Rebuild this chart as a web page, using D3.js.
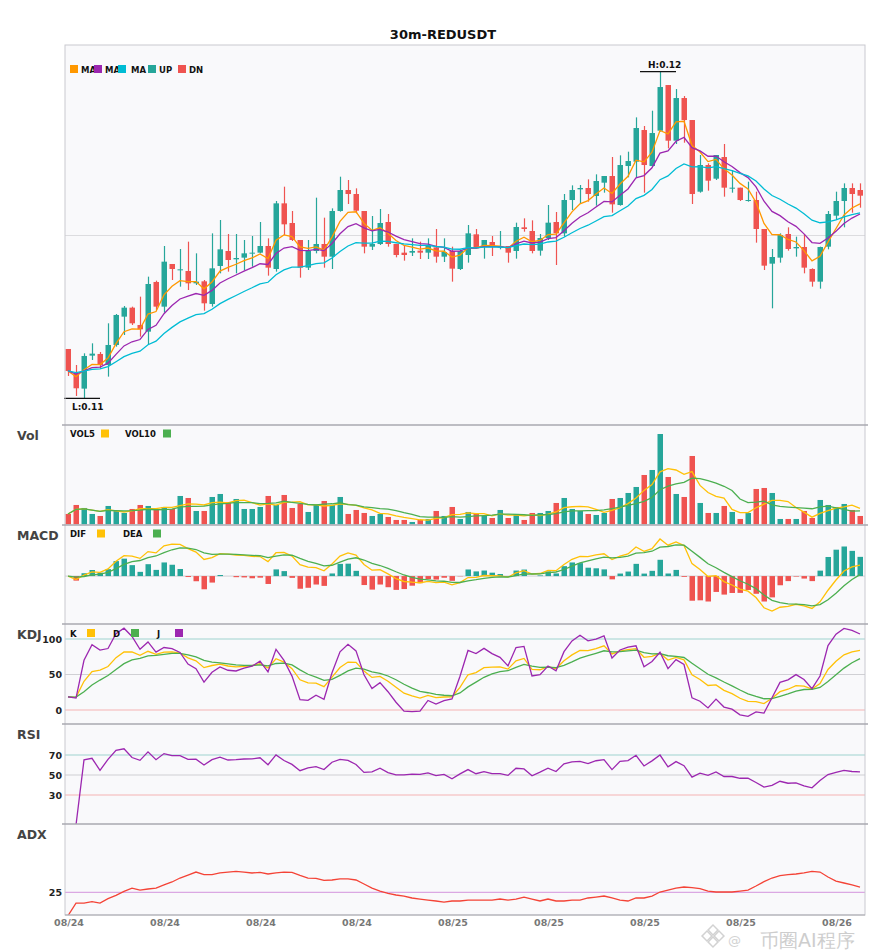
<!DOCTYPE html>
<html><head><meta charset="utf-8">
<script src="https://cdn.jsdelivr.net/npm/d3@7"></script>
<style>
body{margin:0;background:#fff}
svg{display:block}
text{font-family:"DejaVu Sans",sans-serif}
</style></head>
<body><svg id="chart" width="885" height="950"></svg>
<script>
const chartTitle = "30m-REDUSDT";
const opens = [0.11148,0.11075,0.11029,0.11128,0.11133,0.11100,0.11160,0.11245,0.11272,0.11220,
0.11200,0.11349,0.11275,0.11403,0.11385,0.11382,0.11345,0.11351,0.11283,0.11397,
0.11442,0.11417,0.11422,0.11435,0.11437,0.11457,0.11388,0.11585,0.11526,0.11475,
0.11392,0.11442,0.11463,0.11425,0.11562,0.11625,0.11613,0.11562,0.11455,0.11463,
0.11529,0.11463,0.11437,0.11437,0.11443,0.11437,0.11453,0.11425,0.11442,0.11388,
0.11430,0.11492,0.11455,0.11469,0.11453,0.11457,0.11442,0.11513,0.11502,0.11443,
0.11481,0.11529,0.11495,0.11595,0.11627,0.11631,0.11607,0.11647,0.11667,0.11580,
0.11697,0.11710,0.11805,0.11697,0.11803,0.11940,0.11773,0.11901,0.11835,0.11620,
0.11700,0.11659,0.11724,0.11630,0.11632,0.11593,0.11595,0.11508,0.11404,0.11422,
0.11493,0.11450,0.11454,0.11388,0.11350,0.11455,0.11548,0.11592,0.11631,0.11625];
const highs = [0.11148,0.11100,0.11135,0.11165,0.11139,0.11225,0.11253,0.11277,0.11275,0.11305,
0.11365,0.11353,0.11457,0.11403,0.11448,0.11470,0.11435,0.11355,0.11495,0.11535,
0.11493,0.11493,0.11475,0.11487,0.11529,0.11480,0.11592,0.11635,0.11562,0.11475,
0.11475,0.11602,0.11542,0.11570,0.11665,0.11655,0.11630,0.11562,0.11547,0.11568,
0.11553,0.11463,0.11460,0.11480,0.11470,0.11480,0.11508,0.11480,0.11455,0.11445,
0.11520,0.11508,0.11475,0.11487,0.11502,0.11457,0.11527,0.11540,0.11534,0.11493,
0.11580,0.11559,0.11613,0.11639,0.11640,0.11657,0.11672,0.11667,0.11724,0.11729,
0.11740,0.11843,0.11817,0.11863,0.11980,0.11940,0.11928,0.11907,0.11835,0.11730,
0.11705,0.11730,0.11763,0.11685,0.11632,0.11650,0.11620,0.11508,0.11448,0.11495,
0.11513,0.11485,0.11493,0.11390,0.11455,0.11562,0.11620,0.11645,0.11645,0.11645];
const lows = [0.11067,0.11007,0.11000,0.11115,0.11090,0.11065,0.11155,0.11190,0.11220,0.11185,
0.11160,0.11265,0.11257,0.11355,0.11335,0.11325,0.11340,0.11263,0.11275,0.11375,
0.11380,0.11375,0.11385,0.11395,0.11435,0.11368,0.11380,0.11490,0.11472,0.11362,
0.11385,0.11435,0.11392,0.11388,0.11560,0.11583,0.11555,0.11435,0.11445,0.11460,
0.11455,0.11423,0.11413,0.11427,0.11418,0.11418,0.11407,0.11409,0.11350,0.11385,
0.11407,0.11450,0.11419,0.11427,0.11447,0.11407,0.11419,0.11500,0.11435,0.11428,
0.11475,0.11400,0.11485,0.11565,0.11583,0.11590,0.11578,0.11617,0.11557,0.11578,
0.11663,0.11663,0.11617,0.11695,0.11800,0.11750,0.11763,0.11767,0.11583,0.11617,
0.11623,0.11655,0.11605,0.11617,0.11592,0.11590,0.11467,0.11385,0.11270,0.11407,
0.11443,0.11425,0.11375,0.11335,0.11329,0.11447,0.11535,0.11513,0.11557,0.11572];
const closes = [0.11082,0.11030,0.11127,0.11134,0.11100,0.11160,0.11250,0.11272,0.11225,0.11207,
0.11343,0.11275,0.11410,0.11388,0.11387,0.11345,0.11350,0.11285,0.11390,0.11447,
0.11415,0.11421,0.11435,0.11437,0.11457,0.11392,0.11585,0.11522,0.11475,0.11392,
0.11442,0.11463,0.11425,0.11562,0.11625,0.11613,0.11563,0.11455,0.11463,0.11526,
0.11463,0.11430,0.11430,0.11442,0.11437,0.11457,0.11425,0.11439,0.11389,0.11442,
0.11495,0.11450,0.11475,0.11455,0.11455,0.11437,0.11514,0.11508,0.11442,0.11481,
0.11527,0.11495,0.11595,0.11625,0.11631,0.11613,0.11652,0.11667,0.11582,0.11700,
0.11712,0.11811,0.11700,0.11796,0.11934,0.11773,0.11901,0.11835,0.11613,0.11700,
0.11653,0.11730,0.11632,0.11632,0.11595,0.11595,0.11508,0.11398,0.11424,0.11490,
0.11448,0.11454,0.11392,0.11350,0.11454,0.11553,0.11592,0.11631,0.11613,0.11608];
const volumes = [31000,58000,49000,31000,25000,55000,40000,34000,46000,58000,
55000,43000,52000,46000,85000,79000,40000,40000,82000,91000,
67000,76000,46000,46000,52000,85000,58000,88000,49000,61000,
37000,58000,70000,58000,82000,31000,43000,34000,25000,31000,
22000,13000,13000,7000,13000,16000,40000,25000,52000,16000,
37000,31000,25000,19000,43000,19000,31000,13000,34000,34000,
40000,64000,79000,46000,40000,31000,28000,34000,76000,79000,
94000,112000,148000,163000,271000,142000,91000,82000,205000,64000,
34000,34000,55000,37000,16000,34000,106000,109000,94000,16000,
16000,16000,40000,19000,73000,58000,52000,61000,43000,25000];
const adxValues = [0,13.5,13.5,15.0,13.5,18.2,21.7,26.0,29.5,27.4,
28.5,29.5,32.8,36.0,40.2,43.4,46.6,43.8,43.8,45.6,
46.6,47.3,46.6,45.6,46.3,44.5,45.6,46.6,46.3,43.1,
40.2,39.9,37.7,38.1,39.2,39.2,38.1,33.8,29.5,26.3,
23.9,22.1,21.0,18.9,17.8,16.7,15.7,14.6,15.7,15.7,
16.7,16.7,16.7,16.7,17.8,16.7,17.8,19.9,17.8,15.7,
17.8,15.7,15.7,16.7,16.7,18.9,19.9,21.0,18.9,16.7,
15.7,18.9,18.9,21.0,25.3,27.4,29.5,30.6,29.9,28.8,
26.3,25.3,25.3,25.3,26.3,27.4,31.7,36.3,40.2,42.7,
43.8,44.5,45.6,47.3,46.6,41.3,37.0,34.9,32.8,30.6];
const xTickIndex = [0,12,24,36,48,60,72,84,96];
const xTickLabels = ["08/24","08/24","08/24","08/24","08/25","08/25","08/25","08/25","08/26"];
const maPeriods = [5,10,20];
const maLegend = ["MA","MA","MA"];
const macdParams = [6,13,5];
const kdjTicks = [100,50,0];
const rsiTicks = [70,50,30];
const adxTicks = [25];

const UP="#26a69a", DN="#ef5350";
const maColors=["#ff9800","#9c27b0","#00bcd4"];
const N = closes.length;
const svg = d3.select("#chart");
const L=65, R=865;

function ema(arr,n){const a=2/(n+1);const o=[];arr.forEach((v,i)=>o.push(i===0?v:a*v+(1-a)*o[i-1]));return o;}
function sma(arr,n){return arr.map((v,i)=>d3.mean(arr.slice(Math.max(0,i-n+1),i+1)));}

const x = d3.scaleBand().domain(d3.range(N)).range([64,864]).paddingInner(0.25).paddingOuter(0.125);
const bw = x.bandwidth();
const cx = i => x(i)+bw/2;

const panels = [
 {name:"",y0:45,y1:425},
 {name:"Vol",y0:425,y1:525},
 {name:"MACD",y0:525,y1:624},
 {name:"KDJ",y0:624,y1:724},
 {name:"RSI",y0:724,y1:824},
 {name:"ADX",y0:824,y1:915}
];
svg.append("rect").attr("x",L).attr("y",45).attr("width",R-L).attr("height",915-45).attr("fill","#f9f9fb");
const defs = svg.append("defs");
panels.forEach((p,k)=>{
  defs.append("clipPath").attr("id","clip"+k).append("rect").attr("x",L).attr("y",p.y0).attr("width",R-L).attr("height",p.y1-p.y0);
});

svg.append("text").attr("x",443).attr("y",39).attr("text-anchor","middle").attr("font-size",13).attr("font-weight","bold").attr("fill","#111").text(chartTitle);

// ---- price panel
const y = d3.scaleLinear().domain([d3.min(lows),d3.max(highs)]).range([398.3,71.7]);
svg.append("line").attr("x1",L).attr("x2",R).attr("y1",235.5).attr("y2",235.5).attr("stroke","#dcdcdf");
const gP = svg.append("g").attr("clip-path","url(#clip0)");
const idx = d3.range(N);
gP.selectAll(".wick").data(idx).join("line")
  .attr("x1",i=>Math.round(cx(i))+0.5).attr("x2",i=>Math.round(cx(i))+0.5)
  .attr("y1",i=>y(highs[i])).attr("y2",i=>y(lows[i]))
  .attr("stroke",i=>closes[i]>=opens[i]?UP:DN).attr("stroke-width",1.2);
gP.selectAll(".body").data(idx).join("rect")
  .attr("x",i=>x(i)+0.5).attr("width",bw-0.5)
  .attr("y",i=>y(Math.max(opens[i],closes[i])))
  .attr("height",i=>Math.max(1,Math.abs(y(opens[i])-y(closes[i]))))
  .attr("fill",i=>closes[i]>=opens[i]?UP:DN);
maPeriods.forEach((n,k)=>{
  const m = ema(closes,n);
  gP.append("path").datum(m).attr("fill","none").attr("stroke",maColors[k]).attr("stroke-width",1.3)
    .attr("d",d3.line().x((d,i)=>cx(i)).y(d=>y(d)));
});
const hiI = d3.maxIndex(highs), loI = d3.minIndex(lows);
svg.append("line").attr("x1",cx(hiI)-20).attr("x2",cx(hiI)+16).attr("y1",y(highs[hiI])).attr("y2",y(highs[hiI])).attr("stroke","#111").attr("stroke-width",1.3);
svg.append("text").attr("x",cx(hiI)-12).attr("y",y(highs[hiI])-4).attr("font-size",9).attr("font-weight","bold").attr("fill","#111").text("H:"+highs[hiI].toFixed(2));
svg.append("line").attr("x1",cx(loI)-20).attr("x2",cx(loI)+16).attr("y1",y(lows[loI])).attr("y2",y(lows[loI])).attr("stroke","#111").attr("stroke-width",1.3);
svg.append("text").attr("x",cx(loI)-12).attr("y",y(lows[loI])+12).attr("font-size",9).attr("font-weight","bold").attr("fill","#111").text("L:"+lows[loI].toFixed(2));
const legItems = [
 {c:maColors[0],t:maLegend[0],x:70},{c:maColors[1],t:maLegend[1],x:94},{c:maColors[2],t:maLegend[2],x:118,tx:131},
 {c:UP,t:"UP",x:148},{c:DN,t:"DN",x:178}];
legItems.forEach(d=>{
  svg.append("rect").attr("x",d.x).attr("y",65).attr("width",8).attr("height",8).attr("fill",d.c);
  svg.append("text").attr("x",d.tx||d.x+11).attr("y",72.5).attr("font-size",8.5).attr("font-weight","bold").attr("fill","#111").text(d.t);
});

// ---- volume panel
const yV = d3.scaleLinear().domain([0,d3.max(volumes)]).range([524.3,434]);
const gV = svg.append("g").attr("clip-path","url(#clip1)");
gV.selectAll("rect").data(idx).join("rect")
  .attr("x",i=>x(i)+0.5).attr("width",bw-0.5).attr("y",i=>yV(volumes[i])).attr("height",i=>yV(0)-yV(volumes[i]))
  .attr("fill",i=>closes[i]>=opens[i]?UP:DN);
[[5,"#ffc107"],[10,"#4caf50"]].forEach(([n,c])=>{
  gV.append("path").datum(sma(volumes,n)).attr("fill","none").attr("stroke",c).attr("stroke-width",1.3)
    .attr("d",d3.line().x((d,i)=>cx(i)).y(d=>yV(d)));
});
function legend(items,yy){
  items.forEach(d=>{
    svg.append("text").attr("x",d.x).attr("y",yy+3.5).attr("font-size",8.5).attr("font-weight","bold").attr("fill","#111").text(d.t);
    svg.append("rect").attr("x",d.sx).attr("y",yy-4).attr("width",8).attr("height",8).attr("fill",d.c);
  });
}
legend([{t:"VOL5",x:70,sx:101,c:"#ffc107"},{t:"VOL10",x:125,sx:163,c:"#4caf50"}],433.5);

// ---- MACD
const eF=ema(closes,macdParams[0]), eS=ema(closes,macdParams[1]);
const dif=eF.map((v,i)=>v-eS[i]);
const dea=ema(dif,macdParams[2]);
const hist=dif.map((v,i)=>2*(v-dea[i]));
const yM=d3.scaleLinear().domain(d3.extent([...dif,...dea,...hist])).range([611,539]);
svg.append("line").attr("x1",L).attr("x2",R).attr("y1",yM(0)).attr("y2",yM(0)).attr("stroke","#cfcfd3");
const gM=svg.append("g").attr("clip-path","url(#clip2)");
gM.selectAll("rect").data(idx).join("rect")
  .attr("x",i=>x(i)+0.5).attr("width",bw-0.5)
  .attr("y",i=>Math.min(yM(0),yM(hist[i]))).attr("height",i=>Math.abs(yM(hist[i])-yM(0)))
  .attr("fill",i=>hist[i]>=0?UP:DN);
[[dif,"#ffc107"],[dea,"#4caf50"]].forEach(([arr,c])=>{
  gM.append("path").datum(arr).attr("fill","none").attr("stroke",c).attr("stroke-width",1.3)
    .attr("d",d3.line().x((d,i)=>cx(i)).y(d=>yM(d)));
});
legend([{t:"DIF",x:70,sx:97,c:"#ffc107"},{t:"DEA",x:123,sx:153,c:"#4caf50"}],533.5);

// ---- KDJ
const K=[],D=[],J=[];
for(let i=0;i<N;i++){
  const lo=d3.min(lows.slice(Math.max(0,i-8),i+1)), hi=d3.max(highs.slice(Math.max(0,i-8),i+1));
  const rsv = hi===lo?50:(closes[i]-lo)/(hi-lo)*100;
  if(i===0){K[0]=rsv;D[0]=rsv;} else {K[i]=2/3*K[i-1]+rsv/3; D[i]=2/3*D[i-1]+K[i]/3;}
  J[i]=3*K[i]-2*D[i];
}
const yK=d3.scaleLinear().domain([-20,120]).range([724.2,624.8]);
const kdjLineColors={100:"#9fd3cf",50:"#d0d0d4",0:"#f5b3b3"};
kdjTicks.forEach(t=>{
  svg.append("line").attr("x1",L).attr("x2",R).attr("y1",yK(t)).attr("y2",yK(t)).attr("stroke",kdjLineColors[t]).attr("stroke-width",1.2);
  svg.append("text").attr("x",62).attr("y",yK(t)+3.5).attr("text-anchor","end").attr("font-size",9.5).attr("font-weight","bold").attr("fill","#222").text(t);
});
const gK=svg.append("g").attr("clip-path","url(#clip3)");
[[K,"#ffc107"],[D,"#4caf50"],[J,"#9c27b0"]].forEach(([arr,c])=>{
  gK.append("path").datum(arr).attr("fill","none").attr("stroke",c).attr("stroke-width",1.3)
    .attr("d",d3.line().x((d,i)=>cx(i)).y(d=>yK(d)));
});
legend([{t:"K",x:70,sx:87,c:"#ffc107"},{t:"D",x:113,sx:131,c:"#4caf50"},{t:"J",x:157,sx:175,c:"#9c27b0"}],633);

// ---- RSI
const rsi=[NaN]; let ag=0, al=0;
for(let i=1;i<N;i++){
  const ch=closes[i]-closes[i-1], g=Math.max(ch,0), l=Math.max(-ch,0);
  if(i<=14){ag=(ag*(i-1)+g)/i; al=(al*(i-1)+l)/i;} else {ag=(ag*13+g)/14; al=(al*13+l)/14;}
  rsi[i]= ag+al===0?50:100*ag/(ag+al);
}
const yR=d3.scaleLinear().domain([0,100]).range([825,725]);
const rsiLineColors={70:"#9fd3cf",50:"#d0d0d4",30:"#f5b3b3"};
rsiTicks.forEach(t=>{
  svg.append("line").attr("x1",L).attr("x2",R).attr("y1",yR(t)).attr("y2",yR(t)).attr("stroke",rsiLineColors[t]).attr("stroke-width",1.2);
  svg.append("text").attr("x",62).attr("y",yR(t)+3.5).attr("text-anchor","end").attr("font-size",9.5).attr("font-weight","bold").attr("fill","#222").text(t);
});
svg.append("g").attr("clip-path","url(#clip4)").append("path").datum(rsi).attr("fill","none").attr("stroke","#9c27b0").attr("stroke-width",1.3)
  .attr("d",d3.line().defined(d=>!isNaN(d)).x((d,i)=>cx(i)).y(d=>yR(d)));

// ---- ADX
const yA=d3.scaleLinear().domain([0,100]).range([915.7,822]);
adxTicks.forEach(t=>{
  svg.append("line").attr("x1",L).attr("x2",R).attr("y1",yA(t)).attr("y2",yA(t)).attr("stroke","#dba8e3").attr("stroke-width",1.2);
  svg.append("text").attr("x",62).attr("y",yA(t)+3.5).attr("text-anchor","end").attr("font-size",9.5).attr("font-weight","bold").attr("fill","#222").text(t);
});
svg.append("g").attr("clip-path","url(#clip5)").append("path").datum(adxValues).attr("fill","none").attr("stroke","#f44336").attr("stroke-width",1.3)
  .attr("d",d3.line().x((d,i)=>cx(i)).y(d=>yA(d)));

// frames
svg.append("rect").attr("x",L).attr("y",45).attr("width",R-L).attr("height",915-45).attr("fill","none").attr("stroke","#c9c9d0").attr("stroke-width",1);
panels.slice(1).forEach(p=>{
  svg.append("line").attr("x1",L-3).attr("x2",R+3).attr("y1",p.y0).attr("y2",p.y0).attr("stroke","#a9a9b0").attr("stroke-width",1.4);
});
svg.append("line").attr("x1",L).attr("x2",R).attr("y1",915).attr("y2",915).attr("stroke","#a9a9b0").attr("stroke-width",1.2);
panels.forEach(p=>{
  if(!p.name) return;
  svg.append("text").attr("x",17).attr("y",p.y0+15).attr("font-size",12.5).attr("font-weight","bold").attr("fill","#444").text(p.name);
});

xTickIndex.forEach((t,k)=>{
  svg.append("text").attr("x",cx(t)+1).attr("y",926).attr("text-anchor","middle").attr("font-size",9.5).attr("font-weight","bold").attr("fill","#777").text(xTickLabels[k]);
});

// watermark
const wm=svg.append("g").attr("opacity",0.75);
[[707,936],[713,930],[719,936],[713,942]].forEach(([px,py])=>{
  wm.append("rect").attr("x",px-3.5).attr("y",py-3.5).attr("width",7).attr("height",7).attr("fill","none").attr("stroke","#c4c4c4").attr("stroke-width",1.5)
    .attr("transform",`rotate(45 ${px} ${py})`);
});
wm.append("text").attr("x",728).attr("y",945).attr("font-size",13).attr("fill","#c4c4c4").text("@");
wm.append("text").attr("x",760).attr("y",947).attr("font-size",19).attr("fill","#bdbdbd")
  .attr("font-family","'Noto Sans CJK SC'").text("币圈AI程序");
</script>
</body></html>
